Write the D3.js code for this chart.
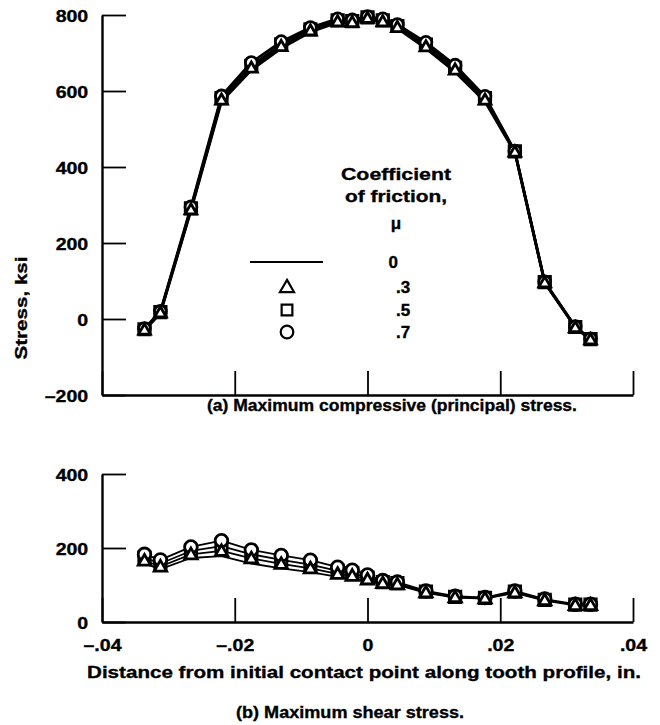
<!DOCTYPE html>
<html>
<head>
<meta charset="utf-8">
<script src="https://cdn.jsdelivr.net/npm/d3@7"></script>
<style>
  html, body { margin: 0; padding: 0; background: #fff; }
  svg { display: block; }
  text { font-family: "Liberation Sans", Arial, Helvetica, sans-serif; font-weight: bold; fill: #000; stroke: #000; stroke-width: 0.35px; }
</style>
</head>
<body>
<svg id="chart" width="660" height="725"></svg>
<script>
// ---------------- data ----------------
const distance = [-0.0336, -0.0312, -0.0266, -0.0220, -0.0175, -0.0130, -0.0086, -0.0045, -0.0023, 0,
                  0.0023, 0.0045, 0.0088, 0.0132, 0.0177, 0.0222, 0.0267, 0.0313, 0.0336];
const frictionLabels = ["0", ".3", ".5", ".7"];

// (a) maximum compressive (principal) stress, ksi
const compMu0 = [-30, 15, 285, 572, 655, 712, 755, 780, 778, 790, 780, 765, 712, 650, 572, 438, 95, -22, -55];
const compMu3 = [-28, 17, 288, 577, 661, 718, 759, 783, 781, 792, 783, 768, 717, 656, 577, 440, 96, -22, -54];
const compMu5 = [-27, 18, 291, 581, 666, 723, 762, 786, 784, 794, 786, 771, 722, 661, 581, 441, 97, -21, -53];
const compMu7 = [-25, 20, 295, 587, 675, 730, 767, 790, 787, 796, 790, 775, 728, 668, 586, 442, 98, -20, -52];

// (b) maximum shear stress, ksi
const shearMu0 = [158, 143, 173, 178, 158, 145, 135, 122, 118, 110, 102, 100, 79, 66, 63, 79, 58, 45, 45];
const shearMu3 = [166, 150, 183, 192, 172, 157, 145, 130, 125, 115, 105, 102, 80, 67, 64, 80, 59, 46, 46];
const shearMu5 = [174, 158, 192, 205, 183, 168, 155, 138, 132, 120, 108, 105, 82, 68, 65, 82, 60, 47, 47];
const shearMu7 = [183, 168, 203, 220, 195, 180, 167, 148, 140, 127, 112, 108, 84, 70, 66, 84, 62, 48, 48];

const xTicks = [-0.04, -0.02, 0, 0.02, 0.04];
const yTicksTop = [-200, 0, 200, 400, 600, 800];
const yTicksBottom = [0, 200, 400];

// ---------------- setup ----------------
const SX = 1.15;          // horizontal stretch of the scanned lettering
const FS = 17;
const svg = d3.select("#chart");

const x = d3.scaleLinear().domain([-0.04, 0.04]).range([102, 633]);
const yTop = d3.scaleLinear().domain([-200, 800]).range([395, 15]);
const yBot = d3.scaleLinear().domain([0, 400]).range([622, 474]);

function label(g, px, py, str, width, anchor) {
  const t = g.append("text")
    .attr("x", px).attr("y", py)
    .attr("text-anchor", anchor || "middle")
    .attr("font-size", FS)
    .text(str);
  if (width) t.attr("textLength", width).attr("lengthAdjust", "spacingAndGlyphs");
  return t;
}

const fmtX = d => d === 0 ? "0" : (d < 0 ? "\u2013" : "") + String(Math.abs(d)).replace(/^0/, "");
const fmtY = d => (d < 0 ? "\u2013" : "") + Math.abs(d);

function styleAxis(g) {
  g.select(".domain").attr("stroke", "#000").attr("stroke-width", 2.4);
  g.selectAll(".tick line").attr("stroke", "#000").attr("stroke-width", 1.8);
  g.selectAll(".tick text")
    .attr("font-size", FS)
    .attr("font-family", "'Liberation Sans', Arial, sans-serif")
    .attr("font-weight", "bold")
    .attr("fill", "#000")
    .attr("transform", `scale(${SX},1)`);
}

// ---------------- panel (a) ----------------
const gA = svg.append("g");
const axA_y = gA.append("g").attr("transform", `translate(${x(-0.04)},0)`)
  .call(d3.axisLeft(yTop).tickValues(yTicksTop).tickSize(-24).tickSizeOuter(0).tickPadding(12).tickFormat(fmtY));
styleAxis(axA_y);
axA_y.selectAll(".tick text").attr("dy", "0.36em");

const axA_x = gA.append("g").attr("transform", `translate(0,${yTop(-200)})`)
  .call(d3.axisBottom(x).tickValues(xTicks).tickSize(-24).tickSizeOuter(0).tickFormat(""));
styleAxis(axA_x);

// ---------------- panel (b) ----------------
const gB = svg.append("g");
const axB_y = gB.append("g").attr("transform", `translate(${x(-0.04)},0)`)
  .call(d3.axisLeft(yBot).tickValues(yTicksBottom).tickSize(-24).tickSizeOuter(0).tickPadding(12).tickFormat(fmtY));
styleAxis(axB_y);
axB_y.selectAll(".tick text").attr("dy", "0.36em");

const axB_x = gB.append("g").attr("transform", `translate(0,${yBot(0)})`)
  .call(d3.axisBottom(x).tickValues(xTicks).tickSize(-24).tickSizeOuter(0).tickPadding(17).tickFormat(fmtX));
styleAxis(axB_x);
axB_x.selectAll(".tick text").attr("dy", "0.71em");

// ---------------- series drawing ----------------
function drawPanel(g, yS, series, lineW, mk) {
  const symSquare = d3.symbol().type(d3.symbolSquare).size(mk.sq);
  const symCircle = d3.symbol().type(d3.symbolCircle).size(mk.ci);
  const symTri = d3.symbol().type(d3.symbolTriangle).size(mk.tr);
  const line = d3.line().x((d, i) => x(distance[i])).y(d => yS(d));
  series.forEach(s => {
    g.append("path").attr("d", line(s)).attr("fill", "none")
      .attr("stroke", "#000").attr("stroke-width", lineW).attr("stroke-linejoin", "round");
  });
  // markers: squares (.5), circles (.7), triangles (.3)
  const layers = [[series[2], symSquare, 0], [series[3], symCircle, 0], [series[1], symTri, 1]];
  layers.forEach(([vals, sym, off]) => {
    g.append("g").selectAll("path").data(vals).join("path")
      .attr("transform", (d, i) => `translate(${x(distance[i])},${yS(d) + off})`)
      .attr("d", sym())
      .attr("fill", "#fff").attr("stroke", "#000").attr("stroke-width", mk.sw);
  });
}

drawPanel(gA, yTop, [compMu0, compMu3, compMu5, compMu7], 2.7, {sq: 130, ci: 110, tr: 60, sw: 2.8});
drawPanel(gB, yBot, [shearMu0, shearMu3, shearMu5, shearMu7], 1.8, {sq: 130, ci: 125, tr: 66, sw: 2.8});

// ---------------- labels ----------------
svg.append("text")
  .attr("transform", "translate(27,308) rotate(-90)")
  .attr("text-anchor", "middle").attr("font-size", FS)
  .attr("textLength", 103).attr("lengthAdjust", "spacingAndGlyphs")
  .text("Stress, ksi");

label(svg, 364, 678, "Distance from initial contact point along tooth profile, in.", 554);
label(svg, 392, 411, "(a) Maximum compressive (principal) stress.", 370);
label(svg, 350, 718, "(b) Maximum shear stress.", 228);

// ---------------- legend ----------------
const leg = svg.append("g");
label(leg, 396, 180, "Coefficient", 110);
label(leg, 396, 202, "of friction,", 102);
label(leg, 396, 229, "\u03bc");

const legendRows = [262, 287, 310, 332];
leg.append("line").attr("x1", 250).attr("x2", 323).attr("y1", legendRows[0]).attr("y2", legendRows[0])
  .attr("stroke", "#000").attr("stroke-width", 2.2);
const legSyms = [null, d3.symbol().type(d3.symbolTriangle).size(85),
                 d3.symbol().type(d3.symbolSquare).size(115),
                 d3.symbol().type(d3.symbolCircle).size(125)];
frictionLabels.forEach((lab, i) => {
  const yy = legendRows[i];
  if (legSyms[i]) {
    leg.append("path").attr("transform", `translate(287,${yy + (i === 1 ? 1 : 0)})`).attr("d", legSyms[i]())
      .attr("fill", "#fff").attr("stroke", "#000").attr("stroke-width", 2.2);
  }
  label(leg, i === 0 ? 398 : 396, yy + 6, lab, null, i === 0 ? "end" : "start");
});
</script>
</body>
</html>
